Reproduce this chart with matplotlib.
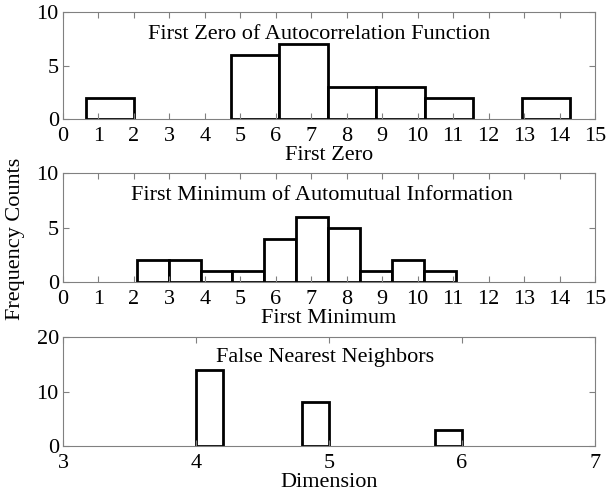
import numpy as np
import matplotlib.pyplot as plt

plt.rcParams['font.family'] = ['Liberation Serif', 'DejaVu Serif']

# histogram bins
zero_edges = [0.64, 2.00, 3.37, 4.73, 6.10, 7.46, 8.83, 10.20, 11.56, 12.93, 14.30]
zero_counts = [2, 0, 0, 6, 7, 3, 3, 2, 0, 2]

min_edges = [2.08, 2.98, 3.88, 4.77, 5.67, 6.57, 7.47, 8.37, 9.27, 10.17, 11.07]
min_counts = [2, 2, 1, 1, 4, 6, 5, 1, 2, 1]

dim_edges = [4.0, 4.2, 4.4, 4.6, 4.8, 5.0, 5.2, 5.4, 5.6, 5.8, 6.0]
dim_counts = [14, 0, 0, 0, 8, 0, 0, 0, 0, 3]

panels = [
    (zero_edges, zero_counts, "First Zero of Autocorrelation Function", "First Zero",
     (0, 15), list(range(16)), (0, 10), [0, 5, 10], 0.482, 0.752),
    (min_edges, min_counts, "First Minimum of Automutual Information", "First Minimum",
     (0, 15), list(range(16)), (0, 10), [0, 5, 10], 0.487, 0.758),
    (dim_edges, dim_counts, "False Nearest Neighbors", "Dimension",
     (3, 7), [3, 4, 5, 6, 7], (0, 20), [0, 10, 20], 0.492, 0.771),
]

rects = [
    [0.1036, 0.7576, 0.875, 0.217],
    [0.1036, 0.4257, 0.875, 0.221],
    [0.1036, 0.0916, 0.875, 0.222],
]

fig = plt.figure(figsize=(6.08, 4.91), dpi=100)
spine_col = '#808080'

for rect, (edges, counts, title, xlab, xl, xt, yl, yt, tx, ty) in zip(rects, panels):
    ax = fig.add_axes(rect)
    edges = np.array(edges)
    counts = np.array(counts)
    widths = np.diff(edges)
    keep = counts > 0
    ax.bar(edges[:-1][keep], counts[keep], width=widths[keep], align='edge',
           facecolor='white', edgecolor='black', linewidth=2)
    ax.set_xlim(*xl)
    ax.set_ylim(*yl)
    ax.set_xticks(xt)
    ax.set_yticks(yt)
    ax.tick_params(direction='in', length=4.5, width=0.8, color=spine_col,
                   labelsize=16, top=True, right=True)
    ax.tick_params(axis='x', pad=6)
    ax.tick_params(axis='y', pad=3)
    for s in ax.spines.values():
        s.set_color(spine_col)
        s.set_linewidth(0.8)
    ax.set_xlabel(xlab, fontsize=16, labelpad=0)
    ax.text(tx, ty, title, transform=ax.transAxes, ha='center', va='baseline',
            fontsize=16)

fig.text(0.025, 0.513, "Frequency Counts", rotation=90, ha='center', va='center',
         fontsize=16)

fig.savefig("out.png", dpi=100)
